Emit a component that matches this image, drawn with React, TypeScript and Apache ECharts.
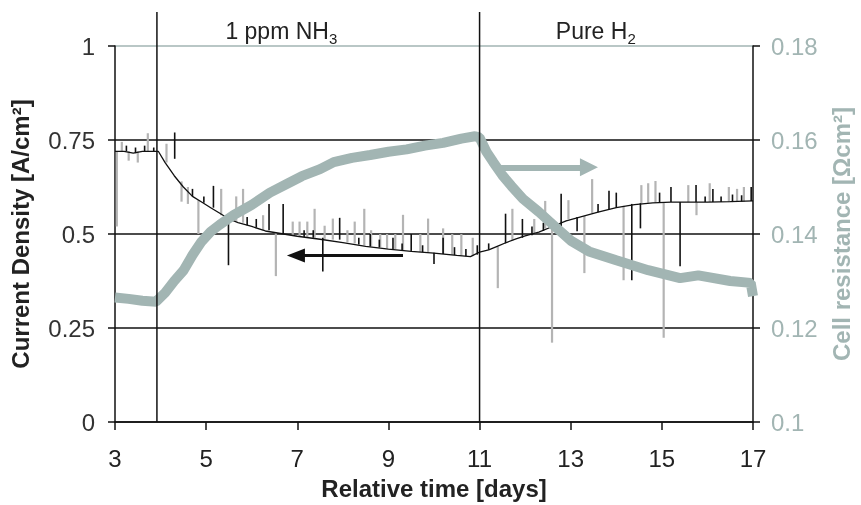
import React, { useEffect, useRef } from "react";
import * as echarts from "echarts";

const X0 = 3;
const xTickLabels = ["3", "5", "7", "9", "11", "13", "15", "17"];

const cdTime = [3.0, 3.2, 3.4, 3.6, 3.8, 3.95, 4.1, 4.3, 4.5, 4.7, 4.9, 5.1, 5.3, 5.5, 5.7, 6.0, 6.3, 6.7, 7.0, 7.5, 8.0, 8.5, 9.0, 9.5, 10.0, 10.5, 10.8, 11.0, 11.2, 11.4, 11.6, 11.8, 12.0, 12.3, 12.6, 12.9, 13.2, 13.6, 14.0, 14.4, 14.8, 15.2, 15.6, 16.0, 16.5, 17.0];
const cdValue = [0.72, 0.72, 0.715, 0.72, 0.72, 0.72, 0.69, 0.655, 0.625, 0.6, 0.585, 0.57, 0.555, 0.54, 0.53, 0.52, 0.508, 0.5, 0.494, 0.486, 0.477, 0.467, 0.46, 0.454, 0.449, 0.443, 0.44, 0.452, 0.458, 0.468, 0.478, 0.487, 0.495, 0.505, 0.52, 0.535, 0.545, 0.558, 0.57, 0.578, 0.583, 0.585, 0.585, 0.585, 0.586, 0.588];

// black spikes: [time, from, to]
const blackSpikes = [
  [3.25, 0.72, 0.735], [3.45, 0.715, 0.73], [3.65, 0.72, 0.735], [3.85, 0.72, 0.73],
  [4.31, 0.70, 0.77], [4.7, 0.6, 0.62], [4.95, 0.583, 0.6], [5.16, 0.57, 0.628], [5.49, 0.55, 0.417],
  [5.9, 0.523, 0.545], [6.1, 0.517, 0.54], [6.38, 0.51, 0.58],
  [6.69, 0.50, 0.58], [7.15, 0.492, 0.51], [7.35, 0.49, 0.51], [7.56, 0.49, 0.40], [7.93, 0.485, 0.543],
  [8.35, 0.472, 0.49], [8.6, 0.467, 0.5], [8.8, 0.464, 0.485],
  [9.1, 0.46, 0.49], [9.3, 0.457, 0.475], [9.5, 0.455, 0.5], [9.75, 0.452, 0.47], [10.0, 0.45, 0.42],
  [10.2, 0.447, 0.49], [10.45, 0.444, 0.465], [10.7, 0.441, 0.46], [10.95, 0.445, 0.47],
  [11.2, 0.458, 0.475], [11.57, 0.475, 0.554], [11.94, 0.49, 0.54], [12.15, 0.497, 0.52],
  [12.4, 0.508, 0.53], [12.79, 0.52, 0.607], [13.14, 0.545, 0.507], [13.6, 0.558, 0.58],
  [13.84, 0.565, 0.615], [14.0, 0.57, 0.61], [14.34, 0.58, 0.377], [14.53, 0.582, 0.515],
  [14.95, 0.584, 0.61], [15.2, 0.585, 0.625], [15.4, 0.585, 0.414], [15.75, 0.585, 0.63],
  [15.95, 0.585, 0.6], [16.12, 0.585, 0.62], [16.3, 0.585, 0.6], [16.55, 0.585, 0.605],
  [16.75, 0.586, 0.603], [16.96, 0.588, 0.625],
];

// grey spikes: [time, from, to]
const greySpikes = [
  [3.04, 0.72, 0.52], [3.15, 0.72, 0.745], [3.3, 0.72, 0.695], [3.5, 0.72, 0.69],
  [3.72, 0.72, 0.768], [4.13, 0.69, 0.74], [4.46, 0.64, 0.586], [4.6, 0.625, 0.58],
  [4.83, 0.59, 0.5], [5.33, 0.55, 0.62], [5.66, 0.535, 0.6], [5.81, 0.53, 0.62],
  [6.25, 0.51, 0.55], [6.53, 0.505, 0.388], [6.9, 0.497, 0.533], [7.05, 0.494, 0.533],
  [7.22, 0.492, 0.533], [7.38, 0.49, 0.567], [7.6, 0.487, 0.522], [7.78, 0.485, 0.541],
  [8.1, 0.478, 0.51], [8.26, 0.475, 0.533], [8.47, 0.47, 0.567], [8.62, 0.467, 0.51],
  [8.82, 0.465, 0.5], [8.97, 0.462, 0.5], [9.15, 0.46, 0.5], [9.32, 0.457, 0.551],
  [9.7, 0.452, 0.5], [9.87, 0.45, 0.541], [10.2, 0.447, 0.515], [10.4, 0.445, 0.5],
  [10.6, 0.443, 0.5], [10.85, 0.441, 0.49], [11.4, 0.466, 0.356], [11.72, 0.482, 0.567],
  [12.2, 0.5, 0.54], [12.44, 0.515, 0.588], [12.59, 0.52, 0.211], [12.95, 0.54, 0.59],
  [13.3, 0.548, 0.396], [13.47, 0.555, 0.646], [14.16, 0.575, 0.377], [14.55, 0.582, 0.63],
  [14.7, 0.583, 0.635], [14.86, 0.584, 0.641], [15.04, 0.585, 0.224], [15.58, 0.585, 0.63],
  [15.76, 0.585, 0.55], [16.05, 0.585, 0.635], [16.47, 0.585, 0.625], [16.65, 0.585, 0.62],
  [16.8, 0.586, 0.625],
];

const resTime = [3.0, 3.3, 3.6, 3.9, 4.1, 4.3, 4.5, 4.7, 4.9, 5.1, 5.3, 5.6, 6.0, 6.4, 6.8, 7.1, 7.5, 7.8, 8.2, 8.6, 9.0, 9.4, 9.8, 10.2, 10.6, 10.9, 11.0, 11.15, 11.3, 11.5, 11.7, 11.95, 12.3, 12.7, 13.0, 13.4, 14.0, 14.7, 15.4, 15.8, 16.5, 16.95, 17.0];
const resValue = [0.1265, 0.1262, 0.1258, 0.1256, 0.1275, 0.13, 0.1322, 0.1355, 0.1384, 0.1405, 0.142, 0.144, 0.1462, 0.1488, 0.1508, 0.1523, 0.1538, 0.1553, 0.1562, 0.1568, 0.1575, 0.158, 0.1588, 0.1594, 0.1603, 0.1608, 0.1605, 0.1575, 0.1553, 0.1525, 0.1502, 0.1475, 0.1447, 0.1412, 0.1386, 0.1363, 0.1344, 0.1323, 0.1306, 0.1312, 0.13, 0.1296, 0.1268];

const phaseLines = [3.92, 11];
const phaseLabels = [
  { t: 6.65, text: "1 ppm NH", sub: "3" },
  { t: 13.55, text: "Pure H", sub: "2" },
];
const blackArrow = { from: 9.32, to: 6.97, y: 0.443 };
const greyArrow = { from: 11.44, to: 13.4, y: 0.1542 };

const TEAL = "#a2b5b3";
const FONT = "Liberation Sans, Arial, sans-serif";

export default function App() {
  const ref = useRef<HTMLDivElement>(null);
  useEffect(() => {
    document.body.style.margin = "0";
    document.body.style.overflow = "hidden";
    document.documentElement.style.overflow = "hidden";
    const chart = echarts.init(ref.current!, undefined, { renderer: "svg", width: 861, height: 505 });
    const spikeSeries = (data: number[][], color: string, width: number, z: number) => ({
      type: "custom",
      xAxisIndex: 0,
      yAxisIndex: 0,
      z,
      silent: true,
      data: data.map((d) => [d[0] - X0, d[1], d[2]]),
      encode: { x: 0, y: [1, 2] },
      renderItem: (params: any, api: any) => {
        const p1 = api.coord([api.value(0), api.value(1)]);
        const p2 = api.coord([api.value(0), api.value(2)]);
        return {
          type: "line",
          shape: { x1: p1[0], y1: p1[1], x2: p2[0], y2: p2[1] },
          style: { stroke: color, lineWidth: width },
        };
      },
    });
    chart.setOption({
      animation: false,
      textStyle: { fontFamily: FONT },
      grid: { left: 113, right: 106, top: 46, bottom: 80 },
      xAxis: {
        type: "value",
        min: 0,
        max: 14,
        interval: 2,
        name: "Relative time [days]",
        nameLocation: "middle",
        nameGap: 54,
        nameTextStyle: { fontSize: 24, fontWeight: "bold", color: "#222", fontFamily: FONT },
        axisLine: { show: true, onZero: false, lineStyle: { color: "#111", width: 1.5 } },
        axisTick: { show: true, length: 8, lineStyle: { color: "#111", width: 1.5 } },
        axisLabel: {
          fontSize: 24,
          color: "#222",
          margin: 24,
          formatter: (v: number) => xTickLabels[Math.round(v / 2)] ?? String(v + X0),
        },
        splitLine: { show: false },
      },
      yAxis: [
        {
          type: "value",
          min: 0,
          max: 1,
          interval: 0.25,
          name: "Current Density [A/cm²]",
          nameLocation: "middle",
          nameGap: 83,
          nameTextStyle: { fontSize: 24, fontWeight: "bold", color: "#222", fontFamily: FONT },
          axisLine: { show: true, lineStyle: { color: "#111", width: 1.5 } },
          axisTick: { show: true, length: 7, lineStyle: { color: "#111", width: 1.5 } },
          axisLabel: { fontSize: 24, color: "#333", margin: 20 },
          splitLine: {
            show: true,
            lineStyle: { color: ["#111", "#111", "#111", "#111", TEAL], width: 1.5 },
          },
        },
        {
          type: "value",
          min: 0.1,
          max: 0.18,
          interval: 0.02,
          position: "right",
          name: "Cell resistance [Ωcm²]",
          nameLocation: "middle",
          nameGap: 76,
          nameRotate: 90,
          nameTextStyle: { fontSize: 24, fontWeight: "bold", color: TEAL, fontFamily: FONT },
          axisLine: { show: true, lineStyle: { color: "#111", width: 1.5 } },
          axisTick: { show: true, length: 7, lineStyle: { color: "#111", width: 1.5 } },
          axisLabel: { fontSize: 24, color: TEAL, margin: 18 },
          splitLine: { show: false },
        },
      ],
      series: [
        spikeSeries(greySpikes, "#b4b4b4", 2.2, 2),
        {
          type: "line",
          xAxisIndex: 0,
          yAxisIndex: 0,
          z: 3,
          showSymbol: false,
          data: cdTime.map((t, i) => [t - X0, cdValue[i]]),
          lineStyle: { color: "#111", width: 1.3 },
          markLine: {
            silent: true,
            symbol: ["triangle", "none"],
            symbolSize: [14, 18],
            label: { show: false },
            lineStyle: { color: "#111", width: 3, type: "solid" },
            data: [[
              { coord: [blackArrow.to - X0, blackArrow.y] },
              { coord: [blackArrow.from - X0, blackArrow.y] },
            ]],
          },
        },
        spikeSeries(blackSpikes, "#111", 1.6, 4),
        {
          type: "line",
          xAxisIndex: 0,
          yAxisIndex: 1,
          z: 5,
          showSymbol: false,
          data: resTime.map((t, i) => [t - X0, resValue[i]]),
          lineStyle: { color: TEAL, width: 10 },
          markLine: {
            silent: true,
            symbol: ["none", "triangle"],
            symbolSize: [18, 18],
            label: { show: false },
            lineStyle: { color: TEAL, width: 6, type: "solid" },
            data: [[
              { coord: [greyArrow.from - X0, greyArrow.y] },
              { coord: [greyArrow.to - X0, greyArrow.y] },
            ]],
          },
        },
      ],
    });
    const yBottom = chart.convertToPixel({ yAxisIndex: 0 }, 0) as number;
    const yTop = chart.convertToPixel({ yAxisIndex: 0 }, 1) as number;
    const graphics: any[] = [];
    phaseLines.forEach((t) => {
      const x = chart.convertToPixel({ xAxisIndex: 0 }, t - X0) as number;
      graphics.push({
        type: "line",
        z: 10,
        shape: { x1: x, y1: yTop - 34, x2: x, y2: yBottom },
        style: { stroke: "#111", lineWidth: 1.5 },
      });
    });
    phaseLabels.forEach((p) => {
      const x = chart.convertToPixel({ xAxisIndex: 0 }, p.t - X0) as number;
      graphics.push({
        type: "text",
        z: 10,
        x,
        y: yTop - 15,
        style: {
          text: `${p.text}{sub|${p.sub}}`,
          fontSize: 23,
          fontFamily: FONT,
          fill: "#222",
          align: "center",
          verticalAlign: "middle",
          lineHeight: 22,
          rich: { sub: { fontSize: 15, lineHeight: 30, verticalAlign: "bottom", fill: "#222", fontFamily: FONT } },
        },
      });
    });
    chart.setOption({ graphic: graphics });
    return () => chart.dispose();
  }, []);
  return (
    <div style={{ position: "fixed", left: 0, top: 0, width: 861, height: 505, overflow: "hidden" }}>
      <div ref={ref} style={{ width: 861, height: 505 }} />
    </div>
  );
}
